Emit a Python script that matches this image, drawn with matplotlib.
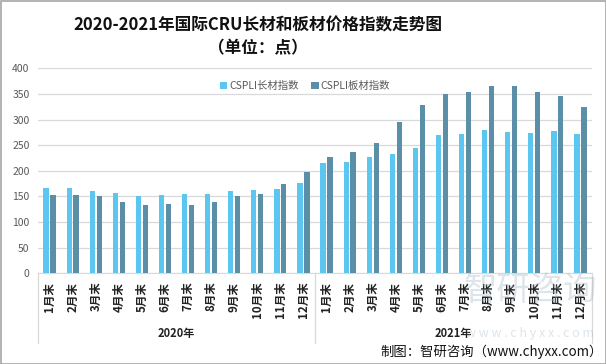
import matplotlib
matplotlib.use("Agg")
import matplotlib.pyplot as plt
from matplotlib.patches import Rectangle
import numpy as np

plt.rcParams['font.family'] = ['Noto Sans CJK SC', 'DejaVu Sans']

months = ["1月末", "2月末", "3月末", "4月末", "5月末", "6月末",
          "7月末", "8月末", "9月末", "10月末", "11月末", "12月末"]
years = ["2020年", "2021年"]
long_idx = [167, 167, 161, 157, 151, 153, 155, 155, 161, 163, 165, 177,
            215, 218, 227, 233, 244, 269, 272, 280, 276, 274, 277, 272]
flat_idx = [153, 153, 151, 140, 134, 136, 134, 140, 151, 155, 174, 198,
            227, 237, 254, 295, 328, 349, 354, 365, 365, 354, 345, 324]
series_names = ["CSPLI长材指数", "CSPLI板材指数"]
yticks = [0, 50, 100, 150, 200, 250, 300, 350, 400]

c_light = "#5BC6F0"
c_dark = "#5A8FA7"

fig = plt.figure(figsize=(6.06, 3.64), dpi=100)
ax = fig.add_axes([38/606, 1-273.3/364, 554/606, 205/364])

n = len(long_idx)
x = np.arange(n)
w = 0.23
ax.bar(x - 0.15, long_idx, w, color=c_light, label=series_names[0], zorder=3)
ax.bar(x + 0.15, flat_idx, w, color=c_dark, label=series_names[1], zorder=3)

ax.set_xlim(-0.5, n - 0.5)
ax.set_ylim(0, 400)
ax.set_yticks(yticks)
ax.set_yticklabels([str(v) for v in yticks], fontsize=7.5, color="#595959")
ax.tick_params(axis='y', length=0, pad=6)
ax.grid(axis='y', color="#D9D9D9", linewidth=0.9, zorder=0)
for s in ["top", "right", "left"]:
    ax.spines[s].set_visible(False)
ax.spines["bottom"].set_color("#D9D9D9")

ax.set_xticks(x)
ax.set_xticklabels(months * 2, rotation=90, fontsize=8.3, fontweight='bold',
                   color="#222222", va='top', ha='center')
ax.tick_params(axis='x', length=0, pad=6)

# group separators
tr = ax.get_xaxis_transform()
for xb in [-0.5, 11.5, n - 0.5]:
    ax.plot([xb, xb], [0, -0.34], transform=tr, color="#D9D9D9",
            linewidth=0.9, clip_on=False)
for i, yl in enumerate(years):
    ax.text(i * 12 + 5.5, -0.295, yl, transform=tr, ha='center', va='center',
            fontsize=8, fontweight='bold', color="#222222")

leg = ax.legend(loc='upper center', bbox_to_anchor=(0.482, 0.985), ncol=2,
                frameon=False, fontsize=7.5, handlelength=0.7, handleheight=0.7,
                handletextpad=0.2, columnspacing=1.2)
for t in leg.get_texts():
    t.set_color("#595959")

fig.text(258/606, 1-25/364, "2020-2021年国际CRU长材和板材价格指数走势图",
         ha='center', va='center', fontsize=12, fontweight='bold', color="#111111")
fig.text(258/606, 1-48/364, "（单位：点）",
         ha='center', va='center', fontsize=12, fontweight='bold', color="#111111")

# watermark
fig.text(530/606, 1-290/364, "智研咨询", ha='center', va='center', fontsize=24,
         color="#9FB3C4", alpha=0.35, zorder=0)
fig.text(530/606, 1-334/364, "w w w . c h y x x . c o m", ha='center', va='center',
         fontsize=9, color="#9FB3C4", alpha=0.35, zorder=0)

fig.text(603/606, 1-352/364, "制图：智研咨询（www.chyxx.com）", ha='right',
         va='center', fontsize=9.6, color="#111111")

fig.patches.append(Rectangle((0.5/606, 0.5/364), 1-1/606, 1-1/364,
                             transform=fig.transFigure, fill=False,
                             edgecolor="#A6A6A6", linewidth=1.2))

fig.savefig("out.png", dpi=100)
